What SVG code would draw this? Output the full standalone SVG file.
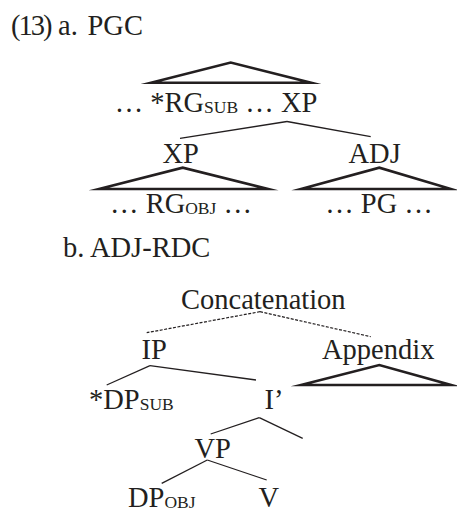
<svg xmlns="http://www.w3.org/2000/svg" width="457" height="508" viewBox="0 0 457 508">
  <style>
    text { font-family: "Liberation Serif", "Times New Roman", serif; font-size: 28.5px; fill: #231f20; }
    .mid { text-anchor: middle; }
    .sub { font-size: 17.5px; }
    .branch { stroke: #231f20; stroke-width: 1.3; fill: none; }
    .dash { stroke: #231f20; stroke-width: 1.2; fill: none; stroke-dasharray: 3 1.5; }
    .tri { stroke: #231f20; stroke-width: 2.6; fill: none; stroke-linejoin: miter; stroke-miterlimit: 10; }
  </style>
  <rect width="457" height="508" fill="#ffffff"/>

  <!-- headings -->
  <g id="heading-13a">
    <text x="11" y="35" letter-spacing="-2">(13)</text>
    <text x="58" y="35">a.</text>
    <text x="87.5" y="35">PGC</text>
  </g>
  <g id="heading-b">
    <text x="63" y="257">b. ADJ-RDC</text>
  </g>

  <!-- (a) tree -->
  <g id="a-root">
    <polygon class="tri" points="151,82.7 230.7,62.5 311,82.7"/>
    <text class="mid" x="216" y="112">… *RG<tspan class="sub" dy="1">SUB</tspan><tspan dy="-1"> … XP</tspan></text>
  </g>
  <g id="a-xp">
    <text x="162.5" y="162.5">XP</text>
    <polygon class="tri" points="99,189 182.7,167.7 268,189"/>
    <text class="mid" x="181" y="212.5">… RG<tspan class="sub" dy="1">OBJ</tspan><tspan dy="-1"> …</tspan></text>
  </g>
  <g id="a-adj">
    <text x="348.5" y="162.5">ADJ</text>
    <polygon class="tri" points="301,189 379.3,167.7 451,189"/>
    <text class="mid" x="379" y="212.5">…  PG …</text>
  </g>

  <!-- (b) tree -->
  <g id="b-concat">
    <text x="181" y="309">Concatenation</text>
  </g>
  <g id="b-ip">
    <text x="141.5" y="359">IP</text>
  </g>
  <g id="b-appendix">
    <text x="322" y="359">Appendix</text>
    <polygon class="tri" points="301,385 379.3,365 451,385"/>
  </g>
  <g id="b-dpsub">
    <text x="89" y="409">*DP<tspan class="sub" dy="1">SUB</tspan></text>
  </g>
  <g id="b-ibar">
    <text x="264.5" y="409">I’</text>
  </g>
  <g id="b-vp">
    <text x="194.5" y="458">VP</text>
  </g>
  <g id="b-dpobj">
    <text x="128" y="506.5">DP<tspan class="sub" dy="1.5">OBJ</tspan></text>
  </g>
  <g id="b-v">
    <text x="258.5" y="506.5">V</text>
  </g>

  <!-- connectors -->
  <g id="connectors">
    <line class="branch" x1="287" y1="121.5" x2="180" y2="138.3"/>
    <line class="branch" x1="287" y1="121.5" x2="370.7" y2="136.7"/>
    <line class="dash" x1="260" y1="311.7" x2="146.7" y2="332.7"/>
    <line class="dash" x1="260" y1="311.7" x2="370.7" y2="336.7"/>
    <line class="branch" x1="150" y1="365.7" x2="106.7" y2="385"/>
    <line class="branch" x1="150" y1="365.7" x2="256" y2="380"/>
    <line class="branch" x1="259.3" y1="417.7" x2="210.7" y2="434"/>
    <line class="branch" x1="259.3" y1="417.7" x2="302.7" y2="438.3"/>
    <line class="branch" x1="207.3" y1="460" x2="161.7" y2="483.3"/>
    <line class="branch" x1="207.3" y1="460" x2="266.7" y2="480"/>
  </g>
</svg>
